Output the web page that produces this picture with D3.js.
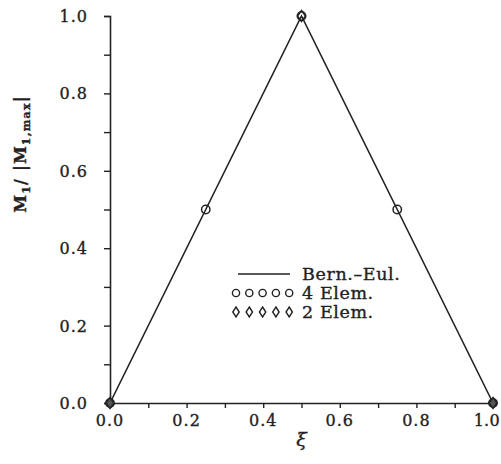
<!DOCTYPE html>
<html><head><meta charset="utf-8">
<script src="https://cdn.jsdelivr.net/npm/d3@7"></script>
<style>body{margin:0;background:#fff}svg{display:block}text{font-family:"DejaVu Serif",serif;fill:#222;stroke:#222;stroke-width:0.35}</style>
</head><body>
<script>
const xi = [0, 0.5, 1];
const bernEul = [0, 1, 0];
const xi4 = [0, 0.25, 0.5, 0.75, 1];
const elem4 = [0, 0.5, 1, 0.5, 0];
const xi2 = [0, 0.5, 1];
const elem2 = [0, 1, 0];
const xTicks = [0, 0.2, 0.4, 0.6, 0.8, 1.0];
const yTicks = [0, 0.2, 0.4, 0.6, 0.8, 1.0];
const legendLabels = ["Bern.\u2013Eul.", "4 Elem.", "2 Elem."];

const W = 501, H = 464;
const svg = d3.select("body").append("svg").attr("width", W).attr("height", H);
const x = d3.scaleLinear().domain([0, 1]).range([110, 493]);
const y = d3.scaleLinear().domain([0, 1]).range([403, 16]);
const ink = "#222";

// axes
const xAxis = svg.append("g").attr("transform", `translate(0,${y(0)})`)
  .call(d3.axisBottom(x).tickValues(d3.range(0, 1.01, 0.1)).tickSize(5).tickFormat(""));
const yAxis = svg.append("g").attr("transform", `translate(${x(0)},0)`)
  .call(d3.axisLeft(y).tickValues(d3.range(0, 1.01, 0.1)).tickSize(6).tickFormat(""));
[xAxis, yAxis].forEach(g => {
  g.select(".domain").attr("stroke", ink).attr("stroke-width", 1.6);
  g.selectAll(".tick line").attr("stroke", ink).attr("stroke-width", 1.4);
});
xAxis.selectAll(".tick").filter(d => Math.abs(d - 1) < 1e-9).select("line").remove();

svg.append("g").selectAll("text").data(xTicks).join("text")
  .attr("x", d => d === 1 ? W - 1 : x(d)).attr("y", 426)
  .attr("text-anchor", d => d === 1 ? "end" : "middle")
  .attr("font-size", 16).attr("letter-spacing", d => d === 1 ? 0.3 : 1)
  .text(d => d.toFixed(1));
svg.append("g").selectAll("text").data(yTicks).join("text")
  .attr("x", 88).attr("y", d => y(d) + 6).attr("text-anchor", "end")
  .attr("font-size", 16).attr("letter-spacing", 1)
  .text(d => d.toFixed(1));

// axis titles
svg.append("text").attr("x", x(0.5)).attr("y", 446).attr("text-anchor", "middle")
  .attr("font-size", 19).attr("font-style", "italic").text("\u03BE");
const yl = svg.append("text").attr("transform", `translate(26,154) rotate(-90)`)
  .attr("text-anchor", "middle").attr("font-size", 16).attr("font-weight", "bold")
  .attr("letter-spacing", 1.2).attr("xml:space", "preserve");
yl.append("tspan").text("M");
yl.append("tspan").attr("font-size", 11).attr("dy", 4).text("1");
yl.append("tspan").attr("dy", -4).text("/ |M");
yl.append("tspan").attr("font-size", 11).attr("dy", 4).text("1,max");
yl.append("tspan").attr("dy", -4).text("|");

// line
const line = d3.line().x(d => x(d[0])).y(d => y(d[1]));
svg.append("path").datum(xi.map((v, i) => [v, bernEul[i]]))
  .attr("d", line).attr("fill", "none").attr("stroke", ink).attr("stroke-width", 1.6);

// markers
svg.append("g").selectAll("circle").data(xi4.map((v, i) => [v, elem4[i]])).join("circle")
  .attr("cx", d => x(d[0])).attr("cy", d => y(d[1])).attr("r", 4.2)
  .attr("fill", "none").attr("stroke", ink).attr("stroke-width", 1.5);
const diamond = (cx, cy, w, h) => `M${cx},${cy - h}L${cx + w},${cy}L${cx},${cy + h}L${cx - w},${cy}Z`;
svg.append("g").selectAll("path").data(xi2.map((v, i) => [v, elem2[i]])).join("path")
  .attr("d", d => diamond(x(d[0]), y(d[1]), 4, 5.5))
  .attr("fill", d => d[1] === 0 ? "#555" : "none").attr("stroke", ink).attr("stroke-width", 1.5);

// legend
const lg = svg.append("g");
lg.append("line").attr("x1", 238).attr("x2", 290).attr("y1", 274).attr("y2", 274)
  .attr("stroke", ink).attr("stroke-width", 1.6);
const lx = d3.range(5).map(i => 236 + i * 13.3);
lg.selectAll("circle").data(lx).join("circle").attr("cx", d => d).attr("cy", 293).attr("r", 3.6)
  .attr("fill", "none").attr("stroke", ink).attr("stroke-width", 1.4);
lg.selectAll("path").data(lx).join("path").attr("d", d => diamond(d, 312, 3.2, 5))
  .attr("fill", "none").attr("stroke", ink).attr("stroke-width", 1.4);
lg.selectAll("text").data(legendLabels).join("text")
  .attr("x", 302).attr("y", (d, i) => 280 + i * 19).attr("font-size", 17.5)
  .attr("letter-spacing", 0.6).attr("xml:space", "preserve")
  .text(d => d);
</script>
</body></html>
